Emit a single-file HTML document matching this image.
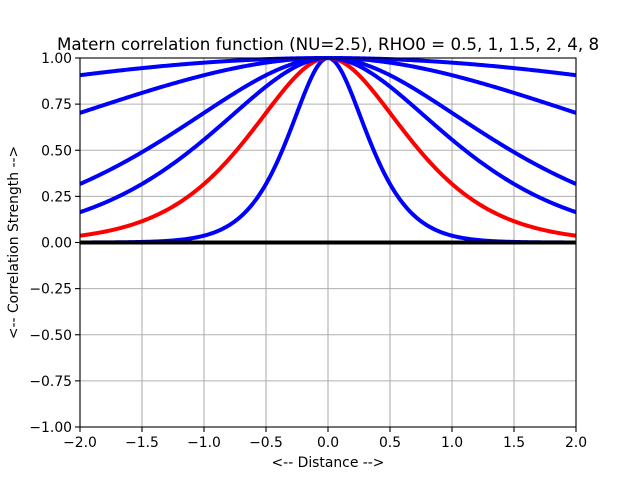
<!DOCTYPE html>
<html><head><meta charset="utf-8"><style>
body{margin:0;background:#fff}
svg text{font-family:"DejaVu Sans","Liberation Sans",sans-serif;fill:#000}
</style></head><body>
<svg id="s" width="640" height="480" xmlns="http://www.w3.org/2000/svg">
<rect width="640" height="480" fill="#fff"/>
<g id="grid"></g>
<g id="curves"></g>
<rect x="80" y="58" width="496" height="369" fill="none" stroke="#000" stroke-width="1.1"/>
<g id="ticks"></g>
<text x="328" y="50" font-size="16.7" text-anchor="middle">Matern correlation function (NU=2.5), RHO0 = 0.5, 1, 1.5, 2, 4, 8</text>
<text x="328" y="467" font-size="13.9" text-anchor="middle">&lt;-- Distance --&gt;</text>
<text transform="translate(18,242.5) rotate(-90)" font-size="13.9" text-anchor="middle">&lt;-- Correlation Strength --&gt;</text>
</svg>
<script>
var NS="http://www.w3.org/2000/svg";
function X(d){return 80+(d+2)*124}
function Y(v){return 242.5-v*184.5}
function el(p,t,a){var e=document.createElementNS(NS,t);for(var k in a)e.setAttribute(k,a[k]);document.getElementById(p).appendChild(e);return e}
for(var i=0;i<=8;i++){var d=-2+i*0.5,x=X(d);
el("grid","line",{x1:x,x2:x,y1:58,y2:427,stroke:"#b0b0b0","stroke-width":1.1});
el("ticks","line",{x1:x,x2:x,y1:427,y2:432,stroke:"#000","stroke-width":1.1});
var t=el("ticks","text",{x:x,y:447,"font-size":13.9,"text-anchor":"middle"});t.textContent=(d<0?"\u2212":"")+Math.abs(d).toFixed(1);}
for(var i=0;i<=8;i++){var v=-1+i*0.25,y=Y(v);
el("grid","line",{x1:80,x2:576,y1:y,y2:y,stroke:"#b0b0b0","stroke-width":1.1});
el("ticks","line",{x1:75,x2:80,y1:y,y2:y,stroke:"#000","stroke-width":1.1});
var t=el("ticks","text",{x:72,y:y+5,"font-size":13.9,"text-anchor":"end"});t.textContent=(v<0?"\u2212":"")+Math.abs(v).toFixed(2);}
var rhos=[0.5,1,1.5,2,4,8];
rhos.forEach(function(r){var p="";for(var i=0;i<=400;i++){var d=-2+i*0.01,x=Math.sqrt(10)*Math.abs(d)/r,c=(1+x+x*x/3)*Math.exp(-x);p+=(i?"L":"M")+X(d).toFixed(2)+","+Y(c).toFixed(2);}
el("curves","path",{d:p,fill:"none",stroke:r==1?"#ff0000":"#0000ff","stroke-width":4});});
el("curves","line",{x1:80,x2:576,y1:242.5,y2:242.5,stroke:"#000","stroke-width":4});
</script>
</body></html>
